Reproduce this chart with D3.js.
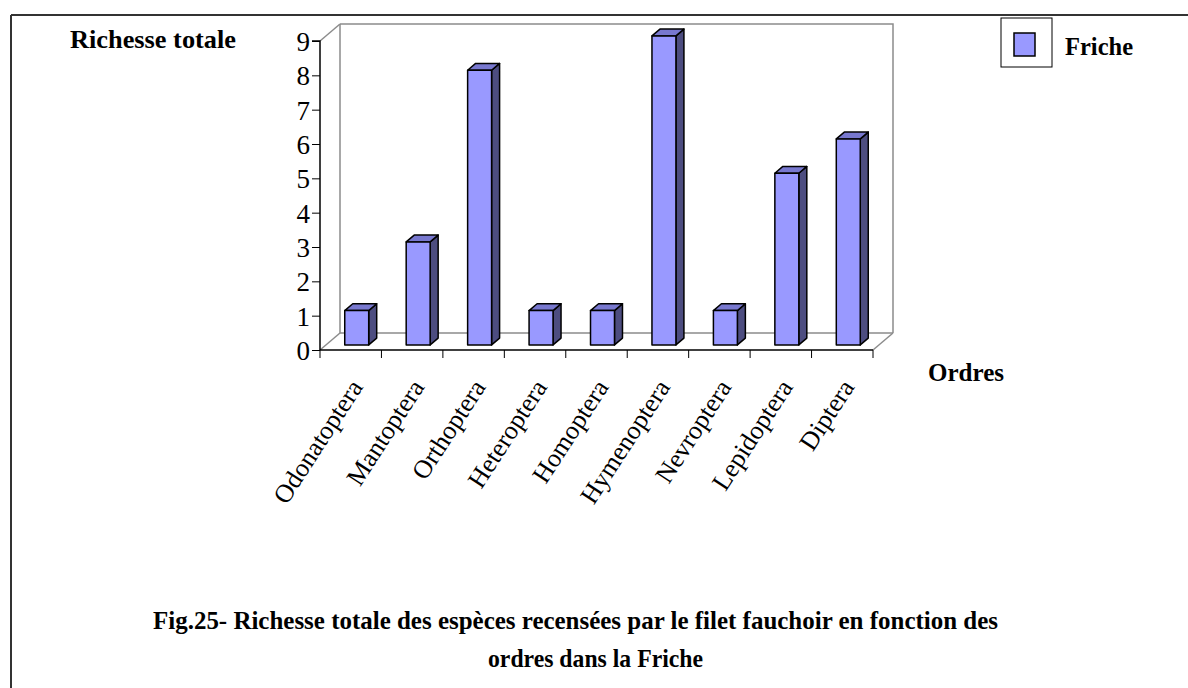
<!DOCTYPE html>
<html><head><meta charset="utf-8">
<script src="https://cdn.jsdelivr.net/npm/d3@7"></script>
<style>
html,body{margin:0;padding:0;background:#fff;}
svg{display:block;}
text{font-family:"Liberation Serif","Times New Roman",serif;fill:#000;}
</style></head>
<body>
<svg id="chart" width="1188" height="688"></svg>
<script>
const categories = ["Odonatoptera","Mantoptera","Orthoptera","Heteroptera","Homoptera","Hymenoptera","Nevroptera","Lepidoptera","Diptera"];
const values = [1,3,8,1,1,9,1,5,6];
const yTicks = [0,1,2,3,4,5,6,7,8,9];
const seriesName = "Friche";
const yTitle = "Richesse totale";
const xTitle = "Ordres";
const captionLines = ["Fig.25- Richesse totale des espèces recensées par le filet fauchoir en fonction des","ordres dans la Friche"];

const svg = d3.select("#chart");
const W = 1188, H = 688;

// frame
svg.append("line").attr("x1",11).attr("y1",15).attr("x2",W).attr("y2",15).attr("stroke","#333").attr("stroke-width",2);
svg.append("line").attr("x1",11).attr("y1",15).attr("x2",11).attr("y2",H).attr("stroke","#333").attr("stroke-width",2);

// plot geometry
const x0 = 320, x1 = 873, yBase = 350, yTop = 41;
const DX = 20, DY = -17; // depth offset
const x = d3.scaleBand().domain(categories).range([x0,x1]).padding(0);
const y = d3.scaleLinear().domain([0,9]).range([yBase,yTop]);

const wall = svg.append("g").attr("fill","none").attr("stroke","#8c8c8c").attr("stroke-width",1.5);
wall.append("path").attr("d",`M${x0+DX},${y(9)+DY} L${x1+DX},${y(9)+DY} L${x1+DX},${y(0)+DY}`);
wall.append("path").attr("d",`M${x0+DX},${y(9)+DY} L${x0+DX},${y(0)+DY} L${x1+DX},${y(0)+DY}`);
wall.append("path").attr("d",`M${x0},${y(9)} L${x0+DX},${y(9)+DY}`);
wall.append("path").attr("d",`M${x0},${y(0)} L${x0+DX},${y(0)+DY}`);
wall.append("path").attr("d",`M${x1},${y(0)} L${x1+DX},${y(0)+DY}`);

// bars
const f1 = 0.3, f2 = 0.7;
const bw = x.bandwidth()*0.39;
const bars = svg.append("g");
categories.forEach((c,i)=>{
  const v = values[i];
  const cx = x(c)+x.bandwidth()/2 + DX*f1;
  const xl = cx - bw/2, xr = cx + bw/2;
  const yb = y(0) + DY*f1, yt = y(v) + DY*f1;
  const ddx = DX*(f2-f1), ddy = DY*(f2-f1);
  const g = bars.append("g").attr("stroke","#000").attr("stroke-width",1.5).attr("stroke-linejoin","round");
  g.append("path").attr("fill","#4d4d80")
    .attr("d",`M${xr},${yt} L${xr+ddx},${yt+ddy} L${xr+ddx},${yb+ddy} L${xr},${yb} Z`);
  g.append("path").attr("fill","#7878cf")
    .attr("d",`M${xl},${yt} L${xl+ddx},${yt+ddy} L${xr+ddx},${yt+ddy} L${xr},${yt} Z`);
  g.append("rect").attr("fill","#9999ff").attr("x",xl).attr("y",yt).attr("width",bw).attr("height",yb-yt);
});

// y axis
const yAxis = d3.axisLeft(y).tickValues(yTicks).tickSize(8).tickPadding(2).tickFormat(d3.format("d"));
const ya = svg.append("g").attr("transform",`translate(${x0},0)`).call(yAxis);
ya.select(".domain").attr("stroke","#000").attr("stroke-width",1.5).attr("d",`M-8,${y(9)}H0V${y(0)}`);
ya.selectAll(".tick line").attr("stroke","#000").attr("stroke-width",1);
ya.selectAll(".tick text").attr("font-family","Liberation Serif").attr("font-size",27).attr("fill","#000").attr("dy","0.35em");

// x axis
const xa = svg.append("g");
xa.append("line").attr("x1",x0).attr("x2",x1).attr("y1",yBase).attr("y2",yBase).attr("stroke","#000").attr("stroke-width",1.5);
const bounds = categories.map(c=>x(c)).concat([x1]);
xa.selectAll("line.t").data(bounds).enter().append("line").attr("class","t")
  .attr("x1",d=>d).attr("x2",d=>d).attr("y1",yBase).attr("y2",yBase+8).attr("stroke","#000").attr("stroke-width",1);
xa.selectAll("text.lab").data(categories).enter().append("text").attr("class","lab")
  .attr("text-anchor","end").attr("font-size",26)
  .attr("transform",d=>`translate(${x(d)+x.bandwidth()/2+13},${yBase+37}) rotate(-57)`)
  .text(d=>d);

// titles
svg.append("text").attr("x",70).attr("y",48).attr("font-size",26).attr("font-weight","bold").attr("textLength",166).attr("lengthAdjust","spacingAndGlyphs").text(yTitle);
svg.append("text").attr("x",928).attr("y",381).attr("font-size",26).attr("font-weight","bold").attr("textLength",76).attr("lengthAdjust","spacingAndGlyphs").text(xTitle);

// legend
const lg = svg.append("g");
lg.append("rect").attr("x",1001).attr("y",18).attr("width",51).attr("height",49).attr("fill","#fff").attr("stroke","#000").attr("stroke-width",1);
lg.append("rect").attr("x",1014).attr("y",33).attr("width",21).attr("height",23).attr("fill","#9999ff").attr("stroke","#000").attr("stroke-width",1.5);
lg.append("text").attr("x",1065).attr("y",55).attr("font-size",26).attr("font-weight","bold").attr("textLength",68).attr("lengthAdjust","spacingAndGlyphs").text(seriesName);

// caption
svg.append("text").attr("x",153).attr("y",629).attr("font-size",25).attr("font-weight","bold").attr("textLength",845).attr("lengthAdjust","spacingAndGlyphs").text(captionLines[0]);
svg.append("text").attr("x",488).attr("y",667).attr("font-size",25).attr("font-weight","bold").attr("textLength",215).attr("lengthAdjust","spacingAndGlyphs").text(captionLines[1]);
</script>
</body></html>
